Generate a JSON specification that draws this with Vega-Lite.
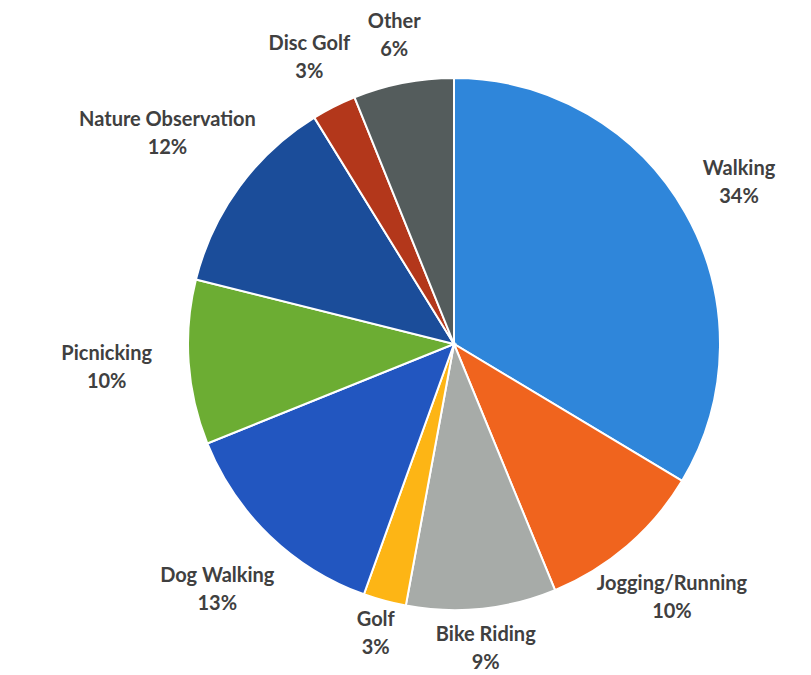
{
  "$schema": "https://vega.github.io/schema/vega-lite/v6.json",
  "autosize": "none",
  "width": 714,
  "height": 662,
  "padding": {"left": 97, "top": 13, "right": 0, "bottom": 0},
  "background": "white",
  "view": {"stroke": null},
  "data": {
    "values": [
      {"order": 1, "category": "Walking", "share": 0.336},
      {"order": 2, "category": "Jogging/Running", "share": 0.102},
      {"order": 3, "category": "Bike Riding", "share": 0.091},
      {"order": 4, "category": "Golf", "share": 0.026},
      {"order": 5, "category": "Dog Walking", "share": 0.134},
      {"order": 6, "category": "Picnicking", "share": 0.100},
      {"order": 7, "category": "Nature Observation", "share": 0.123},
      {"order": 8, "category": "Disc Golf", "share": 0.027},
      {"order": 9, "category": "Other", "share": 0.061}
    ]
  },
  "encoding": {
    "theta": {"field": "share", "type": "quantitative", "stack": true},
    "order": {"field": "order", "type": "quantitative"}
  },
  "layer": [
    {
      "mark": {"type": "arc", "outerRadius": 266, "stroke": "white", "strokeWidth": 2},
      "encoding": {
        "color": {
          "field": "category",
          "type": "nominal",
          "legend": null,
          "scale": {
            "domain": ["Walking", "Jogging/Running", "Bike Riding", "Golf", "Dog Walking", "Picnicking", "Nature Observation", "Disc Golf", "Other"],
            "range": ["#2F86DA", "#F0641E", "#A7ABA8", "#FDB515", "#2256C0", "#6CAD33", "#1B4D9A", "#B3371B", "#545C5C"]
          }
        }
      }
    },
    {
      "mark": {"type": "text", "font": "Lato", "fontSize": 20, "fontWeight": "bold", "color": "#404040", "dy": -14},
      "encoding": {
        "text": {"field": "category", "type": "nominal"},
        "radius": {
          "field": "share",
          "type": "ordinal",
          "scale": {
            "type": "point",
            "padding": 0,
            "domain": [0.026, 0.091, 0.061, 0.027, 0.336, 0.102, 0.134, 0.100, 0.123],
            "range": [300, 355]
          }
        }
      }
    },
    {
      "mark": {"type": "text", "font": "Lato", "fontSize": 20, "fontWeight": "bold", "color": "#404040", "dy": 14},
      "encoding": {
        "text": {"field": "share", "type": "quantitative", "format": ".0%"},
        "radius": {
          "field": "share",
          "type": "ordinal",
          "scale": {
            "type": "point",
            "padding": 0,
            "domain": [0.026, 0.091, 0.061, 0.027, 0.336, 0.102, 0.134, 0.100, 0.123],
            "range": [300, 355]
          }
        }
      }
    }
  ]
}
